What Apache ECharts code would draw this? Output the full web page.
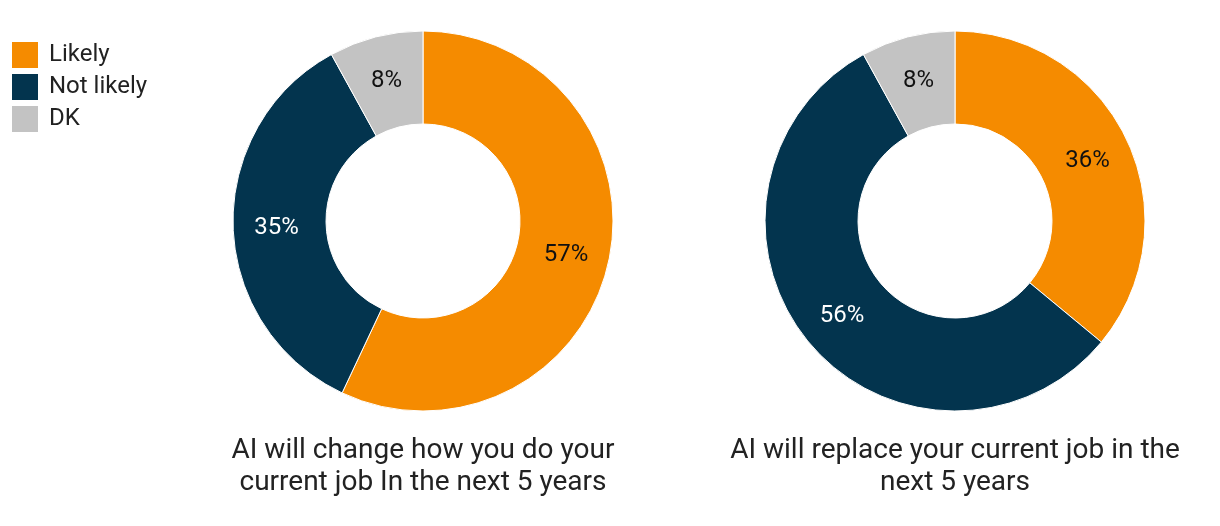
<!DOCTYPE html>
<html><head><meta charset="utf-8">
<script src="https://cdn.jsdelivr.net/npm/echarts@6/dist/echarts.min.js"></script>
<style>html,body{margin:0;padding:0;background:#fff}#c{width:1220px;height:526px}</style>
</head><body><div id="c"></div>
<script>
const categories = ['Likely', 'Not likely', 'DK'];
const changeValues = [57, 35, 8];
const replaceValues = [36, 56, 8];
const titles = ['AI will change how you do your\ncurrent job In the next 5 years', 'AI will replace your current job in the\nnext 5 years'];
const colors = ['#F58B00', '#03344E', '#C3C3C3'];
const labelColors = ['#111111', '#ffffff', '#111111'];
const FONT = 'Roboto';

function mkSeries(vals, cx) {
  return {
    type: 'pie', radius: [97, 190], center: [cx, 221], startAngle: 90, clockwise: true,
    avoidLabelOverlap: false, silent: true,
    itemStyle: { borderColor: '#fff', borderWidth: 1 },
    label: { show: true, position: 'inside', formatter: '{c}%', fontSize: 24, fontFamily: FONT, offset: [0, 2] },
    labelLine: { show: false },
    data: vals.map((v, i) => ({ name: categories[i], value: v,
      itemStyle: { color: colors[i] }, label: { color: labelColors[i] } }))
  };
}
const chart = echarts.init(document.getElementById('c'));
chart.setOption({
  animation: false,
  textStyle: { fontFamily: FONT },
  legend: { orient: 'vertical', left: 10, top: 40, padding: 0, itemWidth: 28, itemHeight: 28, itemGap: 2,
    icon: 'rect', data: categories,
    textStyle: { fontSize: 24, lineHeight: 28, height: 28, color: '#222', fontFamily: FONT, padding: [0, 0, 0, 5] } },
  title: [
    { text: titles[0], left: 423, top: 435, padding: 0, textAlign: 'center',
      textStyle: { fontSize: 28, fontWeight: 'normal', color: '#222', lineHeight: 32, fontFamily: FONT } },
    { text: titles[1], left: 955, top: 435, padding: 0, textAlign: 'center',
      textStyle: { fontSize: 28, fontWeight: 'normal', color: '#222', lineHeight: 32, fontFamily: FONT } }
  ],
  series: [mkSeries(changeValues, 423), mkSeries(replaceValues, 955)]
});
</script></body></html>
